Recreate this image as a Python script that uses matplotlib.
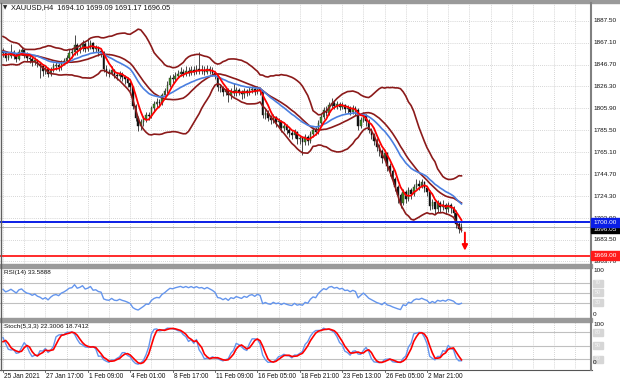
import numpy as np
import pandas as pd
import matplotlib
matplotlib.use("Agg")
import matplotlib.pyplot as plt
from matplotlib.patches import Rectangle

plt.rcParams['font.family'] = ['Liberation Sans', 'DejaVu Sans']

# 4H bars, 20 warm-up bars before 25 Jan 2021 + 174 visible bars
first_open = 1863.0
n_pre = 20
closes = [
    1866, 1869, 1871, 1868, 1864, 1861, 1865, 1870, 1866, 1858,
    1852, 1849, 1851, 1855, 1858, 1856, 1852, 1854, 1857, 1859,
    1857, 1853, 1855, 1858, 1855, 1852, 1858, 1860, 1856, 1853,
    1852, 1849, 1851, 1847, 1845, 1841, 1843, 1838, 1842, 1845,
    1846, 1844, 1848, 1850, 1853, 1857, 1858, 1865, 1860, 1862,
    1866, 1861, 1863, 1867, 1861, 1862, 1859, 1858, 1843, 1840,
    1839, 1842, 1837, 1836, 1838, 1835, 1833, 1830, 1826, 1808,
    1797, 1790, 1793, 1796, 1800, 1799, 1806, 1810, 1812, 1811,
    1818, 1822, 1828, 1834, 1833, 1836, 1838, 1840, 1838, 1841,
    1839, 1842, 1840, 1843, 1841, 1842, 1840, 1843, 1841, 1839,
    1836, 1826, 1825, 1821, 1823, 1818, 1822, 1820, 1823, 1821,
    1819, 1822, 1820, 1823, 1824, 1821, 1824, 1822, 1800, 1802,
    1797, 1795, 1798, 1793, 1794, 1788, 1790, 1786, 1783, 1781,
    1784, 1777, 1778, 1775, 1779, 1776, 1782, 1786, 1784, 1792,
    1798, 1804, 1802, 1809, 1811, 1808, 1810, 1807, 1809, 1805,
    1806, 1803, 1806, 1804, 1790, 1795, 1800, 1794, 1786, 1781,
    1776, 1770, 1766, 1760, 1764, 1752, 1748, 1740, 1733, 1725,
    1718, 1728, 1722, 1730, 1726, 1733, 1736, 1734, 1737, 1732,
    1728, 1715, 1719, 1712, 1718, 1714, 1716, 1712, 1716, 1713,
    1709, 1698, 1694.10, 1696.05,
]
highs = [
    1869, 1872, 1875, 1873, 1870, 1866, 1867, 1872, 1871, 1867,
    1860, 1854, 1853, 1857, 1860, 1861, 1858, 1856, 1859, 1861,
    1862, 1859, 1857, 1866, 1860, 1857, 1861, 1863, 1861, 1858,
    1856, 1854, 1854, 1852, 1849, 1847, 1845, 1844, 1844, 1848,
    1849, 1848, 1851, 1853, 1856, 1861, 1862, 1874, 1867, 1865,
    1870, 1868, 1871, 1870, 1868, 1865, 1864, 1861, 1859, 1846,
    1843, 1845, 1843, 1840, 1841, 1840, 1837, 1835, 1832, 1827,
    1810, 1799, 1796, 1799, 1803, 1803, 1808, 1813, 1816, 1815,
    1820, 1825, 1831, 1837, 1838, 1840, 1842, 1844, 1843, 1845,
    1844, 1845, 1845, 1846, 1858, 1846, 1845, 1846, 1845, 1844,
    1841, 1838, 1829, 1827, 1826, 1825, 1825, 1830, 1826, 1825,
    1823, 1825, 1824, 1826, 1827, 1826, 1827, 1826, 1823, 1805,
    1804, 1800, 1801, 1799, 1797, 1795, 1793, 1791, 1788, 1786,
    1787, 1785, 1781, 1780, 1782, 1781, 1785, 1789, 1789, 1795,
    1801, 1807, 1808, 1812, 1816, 1814, 1813, 1812, 1812, 1810,
    1809, 1808, 1809, 1808, 1806, 1798, 1803, 1801, 1796, 1788,
    1783, 1778, 1773, 1768, 1767, 1765, 1755, 1750, 1742, 1735,
    1727, 1731, 1730, 1733, 1732, 1736, 1740, 1739, 1740, 1738,
    1734, 1730, 1722, 1720, 1721, 1720, 1721, 1718, 1719, 1718,
    1715, 1711, 1700, 1699.09,
]
lows = [
    1861, 1864, 1867, 1865, 1861, 1858, 1859, 1863, 1864, 1855,
    1849, 1846, 1847, 1849, 1853, 1854, 1850, 1850, 1852, 1855,
    1854, 1850, 1851, 1853, 1852, 1849, 1851, 1856, 1853, 1850,
    1848, 1845, 1846, 1844, 1834, 1836, 1838, 1835, 1836, 1840,
    1842, 1841, 1842, 1846, 1848, 1851, 1853, 1856, 1856, 1857,
    1859, 1858, 1859, 1861, 1858, 1858, 1855, 1854, 1840, 1836,
    1835, 1837, 1834, 1832, 1833, 1831, 1829, 1826, 1822, 1805,
    1794, 1785, 1786, 1790, 1793, 1795, 1797, 1803, 1807, 1807,
    1809, 1815, 1820, 1826, 1830, 1831, 1834, 1836, 1835, 1836,
    1836, 1837, 1837, 1838, 1838, 1838, 1837, 1838, 1838, 1836,
    1833, 1822, 1821, 1817, 1818, 1812, 1815, 1817, 1817, 1818,
    1815, 1816, 1817, 1818, 1820, 1818, 1819, 1818, 1797, 1796,
    1794, 1791, 1792, 1789, 1789, 1784, 1785, 1782, 1779, 1777,
    1778, 1773, 1773, 1763, 1772, 1772, 1774, 1779, 1781, 1782,
    1790, 1796, 1799, 1800, 1806, 1805, 1805, 1804, 1805, 1802,
    1802, 1800, 1801, 1800, 1786, 1788, 1793, 1790, 1783, 1777,
    1772, 1766, 1762, 1755, 1757, 1748, 1743, 1736, 1729, 1718,
    1713, 1716, 1718, 1720, 1722, 1724, 1731, 1730, 1732, 1728,
    1724, 1711, 1712, 1708, 1710, 1710, 1711, 1708, 1710, 1709,
    1705, 1695, 1690, 1691.17,
]

time_labels = ["25 Jan 2021", "27 Jan 17:00", "1 Feb 09:00", "4 Feb 01:00",
               "8 Feb 17:00", "11 Feb 09:00", "16 Feb 05:00", "18 Feb 21:00",
               "23 Feb 13:00", "26 Feb 05:00", "2 Mar 21:00"]
price_ticks = [1887.50, 1867.10, 1846.70, 1826.30, 1805.90, 1785.50,
               1765.10, 1744.70, 1724.30, 1703.90, 1683.50, 1663.70]
resistance = 1700.00
target = 1669.00
last_price = 1696.05
header = "XAUUSD,H4  1694.10 1699.09 1691.17 1696.05"
rsi_text = "RSI(14) 33.5888"
stoch_text = "Stoch(5,3,3) 22.3006 18.7412"

# ---- indicators
c = pd.Series(closes, dtype=float)
h = pd.Series(highs, dtype=float)
l = pd.Series(lows, dtype=float)
o = c.shift(1).fillna(first_open)
x = np.arange(len(c)) - n_pre

mid = c.rolling(20).mean()
sd = c.rolling(20).std(ddof=0)
upper, lower = mid + 2 * sd, mid - 2 * sd
ema20 = c.ewm(span=20, adjust=False).mean()
fast = c.rolling(5).mean()

d = c.diff()
gain = d.clip(lower=0).ewm(alpha=1 / 14, adjust=False).mean()
loss = (-d.clip(upper=0)).ewm(alpha=1 / 14, adjust=False).mean()
rsi = 100 - 100 / (1 + gain / loss)

hh = h.rolling(5).max()
ll = l.rolling(5).min()
k = 100 * (c - ll).rolling(3).sum() / (hh - ll).rolling(3).sum()
dline = k.rolling(3).mean()

vis = x >= 0

# ---- layout in pixels
W, H = 620, 383
PX = 2.65          # px per bar
X0 = 3             # px of bar 0
RIGHT = 590
def ax_rect(top, bottom):
    return [0, 1 - bottom / H, RIGHT / W, (bottom - top) / H]

fig = plt.figure(figsize=(6.2, 3.83), dpi=100)
xlim = (-X0 / PX, (RIGHT - X0) / PX)
grid_kw = dict(color="#c8c8c8", lw=0.6, ls=(0, (1, 1.5)), zorder=0)

ax = fig.add_axes(ax_rect(3, 264))
ax.set_xlim(*xlim)
ax.set_ylim(1887.5 - (264 - 20.7) / 1.075, 1887.5 + (20.7 - 3) / 1.075)
rax = fig.add_axes(ax_rect(268, 318))
rax.set_xlim(*xlim)
rax.set_ylim(-1, 101)
sax = fig.add_axes(ax_rect(322, 369))
sax.set_xlim(*xlim)
sax.set_ylim(-2, 102)

for a in (ax, rax, sax):
    a.set_xticks([])
    a.set_yticks([])
    for s in a.spines.values():
        s.set_visible(False)
    for gx in range(0, 240, 8):
        a.axvline(gx, **grid_kw)

for p in price_ticks:
    ax.axhline(p, **grid_kw)

# candles
xv = x[vis]
ov, cv, hv, lv = o[vis].values, c[vis].values, h[vis].values, l[vis].values
ax.vlines(xv, lv, hv, color="#2a2a2a", lw=0.6, zorder=2)
bull = cv >= ov
ax.bar(xv[bull], (cv - ov)[bull], bottom=ov[bull], width=0.6,
       color="#3f8f1f", edgecolor="#2a2a2a", lw=0.3, zorder=3)
ax.bar(xv[~bull], (ov - cv)[~bull], bottom=cv[~bull], width=0.6,
       color="#111111", edgecolor="#111111", lw=0.3, zorder=3)

band_c = "#8b1a1a"
for s in (upper, mid, lower):
    ax.plot(x[vis], s[vis], color=band_c, lw=1.2, zorder=4)
ax.plot(x[vis], ema20[vis], color="#4a7fe0", lw=1.2, zorder=5)
ax.plot(x[vis], fast[vis], color="#ff0000", lw=1.3, zorder=6)

ax.axhline(resistance, color="#0a1ee6", lw=1.4, zorder=7)
ax.axhline(target, color="#ff1a1a", lw=1.3, zorder=7)
ax.axhline(last_price, color="#b0b0b0", lw=0.7, zorder=1)
ax.annotate("", xy=(174.3, target + 2), xytext=(174.3, 1693),
            arrowprops=dict(arrowstyle="-|>", color="#ff0000", lw=1.4,
                            mutation_scale=8), zorder=8)

# RSI
for lv_ in (30, 50, 70):
    rax.axhline(lv_, color="#c0c0c0", lw=0.8, zorder=1)
rax.plot(x[vis], rsi[vis], color="#6495ed", lw=1.0, zorder=3)

# Stochastic
for lv_ in (20, 50, 80):
    sax.axhline(lv_, color="#c0c0c0", lw=0.8, zorder=1)
sax.plot(x[vis], k[vis], color="#6495ed", lw=1.0, zorder=3)
sax.plot(x[vis], dline[vis], color="#ff0000", lw=1.2, zorder=4)

# ---- overlay in pixel coordinates
ov_ax = fig.add_axes([0, 0, 1, 1], zorder=20)
ov_ax.set_xlim(0, W)
ov_ax.set_ylim(H, 0)
ov_ax.axis("off")
ov_ax.patch.set_alpha(0)

sep = "#9a9a9a"
ov_ax.add_patch(Rectangle((0, 0), W, 2.5, color=sep))
ov_ax.add_patch(Rectangle((0, 264), 592, 4, color=sep))
ov_ax.add_patch(Rectangle((0, 318), 592, 4, color=sep))
ov_ax.plot([0, 592], [369.5, 369.5], color="#555555", lw=0.8)
ov_ax.plot([590.5, 590.5], [2.5, 370], color="#808080", lw=1.5)
ov_ax.plot([0.5, 0.5], [2.5, 370], color="#606060", lw=1.0)

fs = 4.6
def py(p):
    return 20.7 + (1887.5 - p) * 1.075

for p in price_ticks:
    ov_ax.text(593, py(p), f"{p:.2f}", fontsize=fs, va="center", ha="left",
               color="#111111")

ov_ax.add_patch(Rectangle((591, py(last_price) - 0.5), 29, 6.5,
                          color="#000000", zorder=3))
ov_ax.text(593, py(last_price) + 2.8, f"{last_price:.2f}", fontsize=fs,
           va="center", ha="left", color="white", zorder=4)
ov_ax.add_patch(Rectangle((591, py(resistance) - 4.5), 29, 9,
                          color="#0a1ee6", zorder=5))
ov_ax.text(593, py(resistance), f"{resistance:.2f}", fontsize=fs,
           va="center", ha="left", color="white", zorder=6)
ov_ax.add_patch(Rectangle((591, py(target) - 4.5), 29, 9,
                          color="#ff1a1a", zorder=5))
ov_ax.text(593, py(target), f"{target:.2f}", fontsize=fs,
           va="center", ha="left", color="white", zorder=6)

# sub-window scales
for txt, yy in (("100", 271), ("0", 314), ("100", 325), ("0", 363)):
    ov_ax.text(593, yy, txt, fontsize=fs, va="center", ha="left",
               color="#111111")
for yy, txt in ((283, "70"), (292.5, "50"), (302, "30"),
                (332, "80"), (345.5, "50"), (359, "20")):
    ov_ax.add_patch(Rectangle((593, yy - 3.5), 10, 7, color="#d6d6d6"))
    ov_ax.text(598, yy, txt, fontsize=3.8, va="center", ha="center",
               color="#f4f4f4")

ov_ax.text(3, 8, "\u25bc", fontsize=4, va="center", ha="left",
           color="#222222", family="DejaVu Sans")
ov_ax.text(11, 8, header, fontsize=5.3, va="center", ha="left",
           color="#111111")
ov_ax.text(4, 272.5, rsi_text, fontsize=fs, va="center", ha="left",
           color="#111111")
ov_ax.text(4, 326.5, stoch_text, fontsize=fs, va="center", ha="left",
           color="#111111")

for i, lab in enumerate(time_labels):
    tx = X0 + PX * 16 * i
    ov_ax.plot([tx, tx], [369.5, 372], color="#555555", lw=0.6)
    ov_ax.text(tx + 1, 376.5, lab, fontsize=4.7, va="center", ha="left",
               color="#111111")

fig.savefig("out.png", dpi=100)
